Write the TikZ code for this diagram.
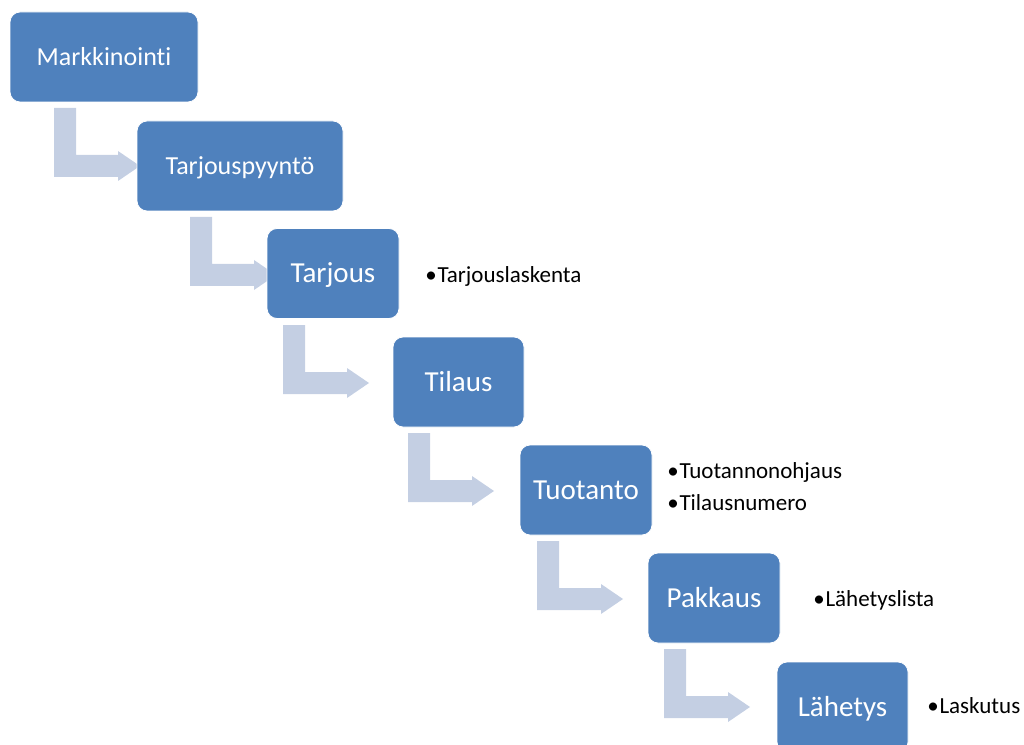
\documentclass[tikz,border=0pt]{standalone}
\usepackage{fontspec}
\setmainfont[Ligatures=NoCommon]{Carlito}
\definecolor{boxblue}{RGB}{79,129,189}
\definecolor{arrowfill}{RGB}{196,207,227}
\newcommand{\bul}{•\kern0.6pt}
\begin{document}
\begin{tikzpicture}[x=0.75pt,y=-0.75pt,
  box/.style={rectangle, rounded corners=7.5pt, fill=boxblue, draw=white, line width=0.6pt,
    inner sep=0pt, text=white, minimum height=67.5pt, text depth=0pt},
  bigtxt/.style={font=\fontsize{21.75}{26}\selectfont, text height=14pt},
  midtxt/.style={font=\fontsize{19.5}{24}\selectfont, text height=12.6pt},
  note/.style={font=\fontsize{17.25}{21}\selectfont, anchor=base west, inner sep=0pt, text=black},
  bentarrow/.pic={\fill[arrowfill] (0,0) -- (22,0) -- (22,47) -- (64,47) -- (64,43) -- (86,58)
     -- (64,73) -- (64,69) -- (0,69) -- cycle;}]
\useasboundingbox (0,0) rectangle (1024,745);
% arrows (drawn under the boxes)
\pic at (54,108) {bentarrow};
\pic at (190,217) {bentarrow};
\pic at (283,325) {bentarrow};
\pic at (408,433) {bentarrow};
\pic at (537,541) {bentarrow};
\pic at (664,649) {bentarrow};
% boxes
\node[box, midtxt, minimum width=141pt] (b1) at (104,57) {Markkinointi};
\node[box, midtxt, minimum width=154.5pt] (b2) at (240,166) {Tarjouspyyntö};
\node[box, bigtxt, minimum width=99pt] (b3) at (333,273.5) {Tarjous};
\node[box, bigtxt, minimum width=98.25pt] (b4) at (458.5,382) {Tilaus};
\node[box, bigtxt, minimum width=99pt] (b5) at (586,490) {Tuotanto};
\node[box, bigtxt, minimum width=99pt] (b6) at (714,598) {Pakkaus};
\node[box, bigtxt, minimum width=98.25pt] (b7) at (842.5,707) {Lähetys};
% notes
\node[note] (n3) at (425,282) {\bul Tarjouslaskenta};
\node[note] (n5a) at (667,478) {\bul Tuotannonohjaus};
\node[note] (n5b) at (667,510) {\bul Tilausnumero};
\node[note] (n6) at (813,606) {\bul Lähetyslista};
\node[note] (n7) at (927,713) {\bul Laskutus};
\end{tikzpicture}
\end{document}
